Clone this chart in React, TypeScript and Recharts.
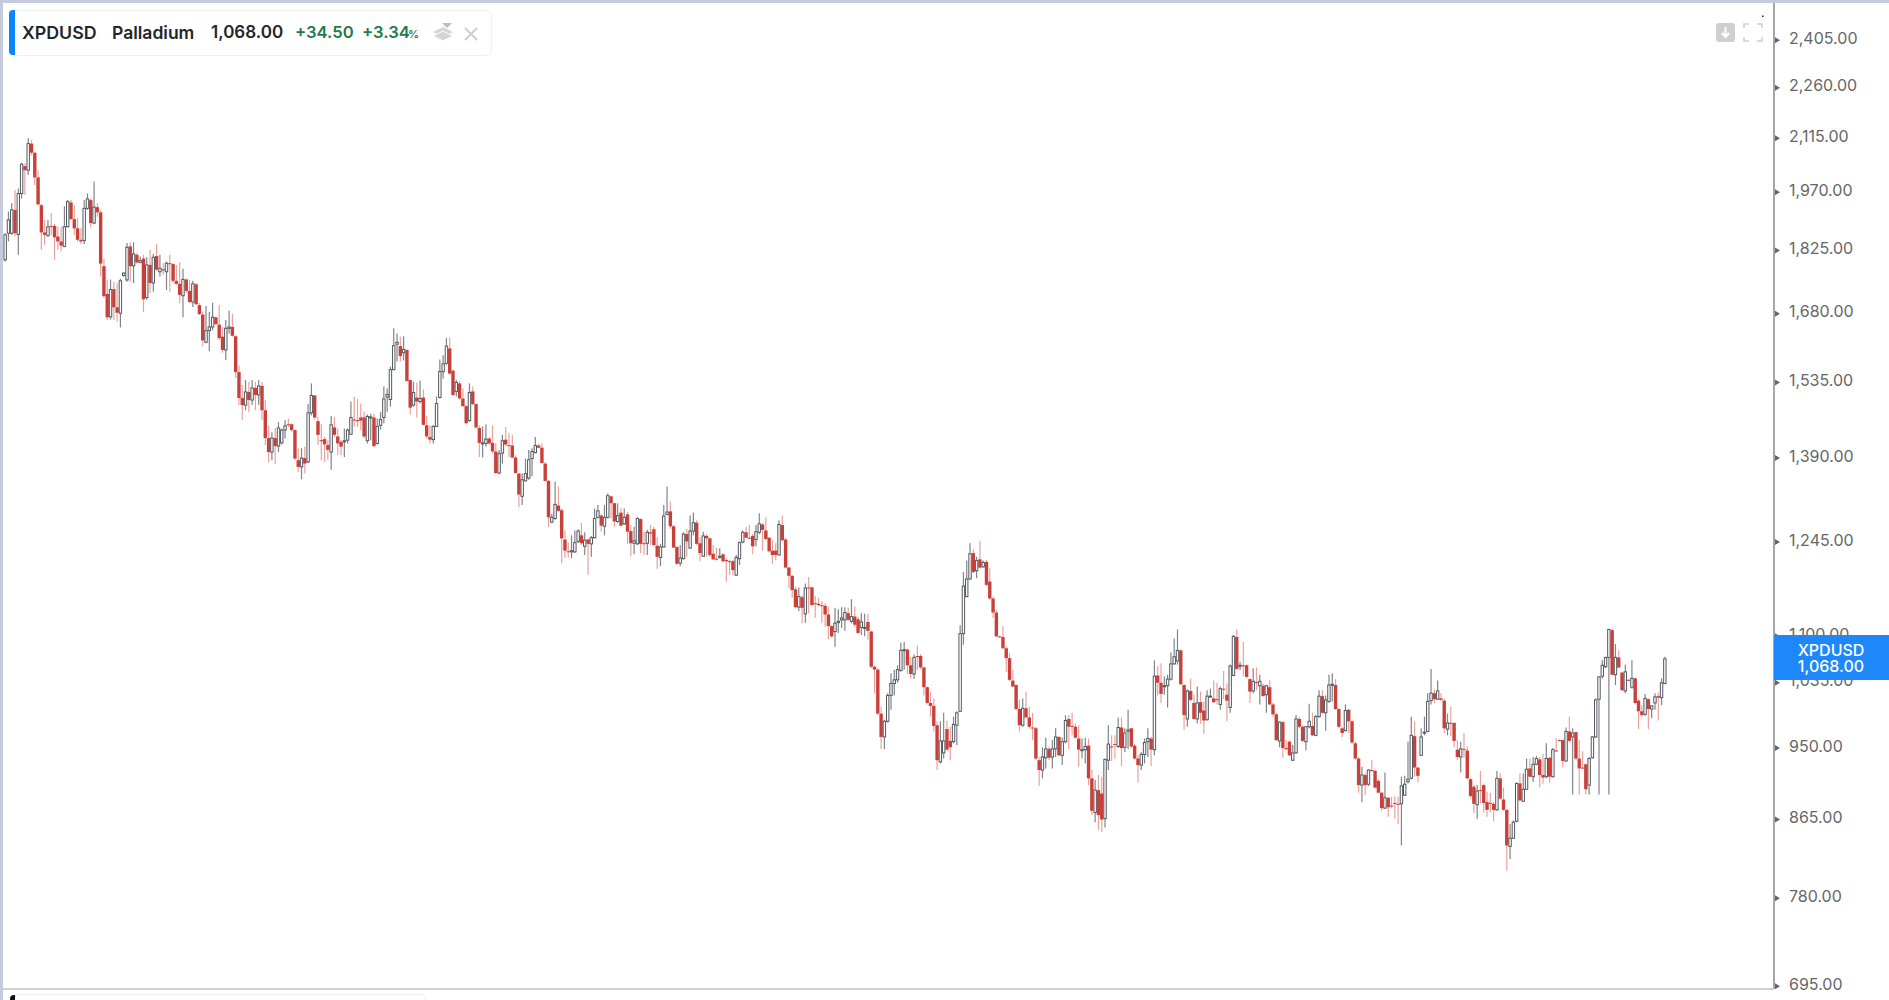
import React from "react";
import { ComposedChart, Bar, XAxis, YAxis } from "recharts";

const tickPrices = [2405, 2260, 2115, 1970, 1825, 1680, 1535, 1390, 1245, 1100, 1035, 950, 865, 780, 695];

const opens = [
  1803,1867,1867,1925,1864,1967,2039,2028,2100,2075,
  2009,1937,1869,1861,1885,1885,1859,1847,1835,1883,
  1944,1902,1879,1851,1849,1929,1950,1892,1932,1919,
  1788,1724,1673,1735,1694,1681,1766,1756,1835,1789,
  1815,1797,1806,1716,1791,1749,1812,1775,1781,1775,
  1795,1793,1754,1747,1720,1757,1731,1706,1746,1699,
  1678,1618,1643,1651,1672,1656,1630,1602,1648,1651,
  1631,1556,1504,1490,1516,1500,1524,1510,1528,1480,
  1427,1401,1427,1412,1418,1442,1453,1453,1442,1386,
  1374,1390,1383,1475,1509,1459,1423,1425,1414,1401,
  1447,1430,1420,1420,1423,1434,1462,1461,1466,1466,
  1422,1467,1466,1417,1451,1466,1506,1501,1561,1614,
  1610,1596,1602,1540,1490,1505,1497,1505,1451,1429,
  1424,1449,1505,1557,1574,1605,1559,1517,1533,1503,
  1488,1460,1517,1492,1446,1417,1417,1426,1418,1402,
  1363,1399,1424,1414,1413,1391,1362,1322,1349,1354,
  1389,1400,1413,1409,1380,1349,1278,1284,1306,1298,
  1249,1230,1229,1229,1246,1256,1238,1249,1242,1252,
  1286,1289,1271,1286,1322,1310,1279,1294,1275,1291,
  1263,1243,1242,1283,1243,1243,1261,1266,1239,1220,
  1237,1291,1296,1271,1237,1211,1218,1258,1235,1263,
  1277,1243,1222,1255,1251,1226,1218,1220,1225,1216,
  1214,1214,1192,1218,1245,1261,1252,1255,1249,1261,
  1274,1264,1252,1231,1231,1224,1273,1249,1204,1191,
  1170,1143,1158,1133,1173,1173,1149,1148,1146,1145,
  1132,1115,1107,1120,1124,1124,1134,1122,1129,1125,
  1113,1113,1121,1107,1057,1053,994,964,984,1018,
  1034,1039,1052,1080,1081,1059,1047,1072,1072,1056,
  1029,1008,1004,979,933,944,974,959,958,979,
  997,1104,1159,1186,1227,1199,1217,1205,1213,1182,
  1156,1135,1100,1099,1083,1069,1038,1032,1000,979,
  1001,989,976,975,935,923,938,949,939,949,
  964,941,958,987,978,977,962,948,948,953,
  913,873,899,895,866,935,952,955,952,976,
  951,971,975,953,937,929,942,958,962,948,
  1045,1035,1030,1031,1040,1061,1065,1080,1032,987,
  1024,1008,987,1009,998,986,1016,1014,1013,1006,
  1027,1019,1002,1045,1099,1058,1059,1059,1040,1024,
  1036,1031,1031,1019,1029,1006,993,959,983,950,
  958,935,944,987,977,958,977,978,966,990,
  1017,995,1010,1032,1032,1000,975,972,999,984,
  956,937,905,917,906,923,922,910,896,878,
  890,881,884,883,883,893,909,913,965,926,
  941,969,971,1011,1021,1013,1014,1011,974,982,
  982,948,939,949,947,912,903,882,899,905,
  885,884,883,876,913,888,876,835,844,863,
  907,886,900,925,915,930,936,917,915,938,
  915,947,960,960,934,971,964,970,937,926,
  930,905,938,964,1013,1044,1057,1070,1109,1046,
  1070,1049,1024,1039,1029,1041,1011,997,993,1013,
  1000,1008,1017,1015,1034,
];

const closes = [
  1863,1900,1925,1867,1967,2044,2028,2100,2075,2009,
  1939,1869,1863,1883,1883,1857,1847,1837,1883,1946,
  1902,1879,1851,1847,1929,1953,1892,1932,1919,1794,
  1719,1672,1734,1694,1682,1754,1772,1833,1788,1817,
  1797,1801,1712,1791,1749,1809,1780,1783,1778,1795,
  1793,1754,1747,1722,1757,1731,1706,1747,1701,1679,
  1622,1643,1651,1672,1657,1627,1602,1648,1651,1632,
  1556,1504,1490,1516,1500,1524,1510,1528,1480,1427,
  1401,1427,1412,1446,1442,1450,1452,1442,1389,1374,
  1390,1380,1475,1509,1466,1433,1421,1415,1405,1452,
  1433,1417,1411,1422,1442,1466,1461,1459,1460,1430,
  1468,1467,1412,1449,1462,1502,1511,1561,1611,1618,
  1589,1603,1538,1485,1515,1497,1503,1452,1430,1424,
  1449,1493,1557,1573,1610,1553,1510,1535,1503,1488,
  1455,1515,1492,1447,1418,1418,1425,1417,1402,1363,
  1398,1422,1415,1413,1391,1363,1325,1351,1362,1387,
  1402,1413,1409,1381,1349,1286,1286,1308,1297,1251,
  1231,1229,1231,1244,1263,1243,1248,1242,1252,1284,
  1297,1272,1286,1323,1310,1279,1289,1272,1286,1262,
  1243,1247,1284,1242,1242,1261,1259,1240,1221,1237,
  1288,1295,1271,1236,1210,1219,1258,1246,1263,1277,
  1242,1227,1255,1251,1224,1217,1217,1222,1214,1214,
  1213,1200,1220,1244,1261,1252,1251,1238,1262,1275,
  1265,1250,1230,1224,1224,1274,1248,1204,1191,1169,
  1143,1159,1142,1172,1172,1146,1148,1146,1145,1132,
  1115,1100,1119,1122,1127,1135,1124,1129,1117,1105,
  1121,1113,1108,1057,1053,994,964,984,1018,1034,
  1039,1053,1080,1081,1059,1047,1070,1071,1056,1029,
  1008,1004,978,935,959,959,948,951,980,995,
  1104,1175,1186,1226,1197,1215,1204,1212,1177,1156,
  1135,1100,1099,1083,1069,1039,1030,1000,979,1001,
  989,977,975,937,923,939,949,938,949,964,
  941,958,985,977,977,963,948,948,952,913,
  875,899,870,865,936,955,951,954,976,950,
  969,973,952,937,929,942,957,962,948,1044,
  1035,1020,1031,1040,1061,1071,1080,1033,992,1024,
  1012,987,1008,995,985,1017,1017,1009,1012,1027,
  1026,1011,1058,1100,1054,1059,1058,1043,1023,1037,
  1035,1037,1017,1031,1006,993,960,983,950,949,
  941,944,987,977,959,977,984,966,990,1017,
  995,1012,1032,1033,1000,977,969,998,984,957,
  937,905,917,905,923,922,902,896,878,890,
  879,880,883,882,904,906,912,966,926,916,
  964,970,1010,1021,1013,1024,1012,975,982,981,
  959,939,949,948,913,892,883,898,898,884,
  876,883,876,913,889,876,836,844,862,907,
  887,900,924,915,930,937,917,914,937,915,
  948,946,959,934,971,959,969,937,925,925,
  900,937,964,1012,1043,1059,1070,1110,1046,1070,
  1056,1025,1050,1038,1041,1008,997,992,1014,1000,
  1004,1016,1015,1035,1068,
];

const highs = [
  1867,1921,1942,1976,1980,2048,2046,2115,2110,2077,
  2028,1940,1900,1900,1917,1890,1883,1883,1934,1950,
  1950,1937,1904,1879,1950,1967,1954,1998,1942,1925,
  1807,1756,1757,1752,1749,1759,1773,1843,1845,1845,
  1819,1811,1815,1809,1827,1817,1841,1815,1795,1799,
  1815,1795,1791,1797,1782,1760,1756,1754,1749,1704,
  1684,1697,1684,1704,1673,1699,1651,1666,1687,1679,
  1633,1570,1530,1540,1536,1540,1536,1540,1536,1500,
  1451,1438,1446,1457,1445,1461,1464,1455,1443,1408,
  1408,1411,1492,1533,1510,1467,1453,1429,1423,1469,
  1467,1445,1423,1445,1445,1497,1507,1502,1493,1477,
  1472,1473,1473,1464,1477,1527,1523,1567,1648,1637,
  1630,1631,1603,1540,1537,1535,1539,1521,1470,1451,
  1451,1507,1582,1591,1627,1628,1560,1540,1537,1523,
  1490,1533,1527,1493,1451,1449,1453,1429,1451,1417,
  1405,1433,1448,1436,1433,1395,1363,1362,1389,1405,
  1408,1429,1417,1417,1383,1351,1292,1348,1339,1301,
  1264,1244,1256,1264,1266,1277,1261,1251,1255,1301,
  1307,1291,1307,1327,1323,1311,1310,1302,1301,1295,
  1273,1270,1286,1284,1262,1265,1273,1270,1253,1242,
  1307,1339,1313,1273,1238,1240,1261,1267,1289,1294,
  1281,1253,1262,1258,1252,1240,1236,1235,1227,1219,
  1216,1216,1224,1246,1264,1270,1273,1258,1273,1293,
  1276,1286,1253,1248,1243,1281,1289,1252,1205,1192,
  1174,1173,1161,1179,1189,1174,1160,1157,1152,1149,
  1144,1116,1142,1140,1143,1143,1142,1155,1144,1129,
  1134,1133,1133,1109,1059,1055,1003,986,1021,1048,
  1053,1059,1091,1092,1083,1071,1074,1087,1075,1057,
  1030,1023,1014,984,984,995,985,977,990,997,
  1116,1197,1215,1243,1233,1221,1247,1215,1216,1203,
  1159,1139,1101,1115,1086,1076,1053,1033,1012,1014,
  1023,1003,995,977,939,951,963,952,960,975,
  965,963,992,992,995,981,979,962,963,962,
  923,911,917,915,937,979,966,966,989,989,
  975,999,976,955,941,945,962,975,964,1066,
  1058,1062,1044,1046,1077,1097,1110,1081,1033,1026,
  1041,1019,1030,1023,1010,1025,1027,1038,1035,1030,
  1051,1034,1060,1102,1110,1064,1092,1060,1041,1055,
  1056,1046,1034,1032,1039,1008,995,984,984,960,
  960,954,992,990,979,977,1007,995,992,1025,
  1025,1018,1046,1048,1040,1001,977,1006,1000,985,
  958,939,927,919,924,935,923,912,897,920,
  891,891,892,891,915,916,958,990,984,927,
  975,990,1021,1054,1026,1038,1021,1014,994,1003,
  982,960,958,969,952,913,905,905,922,907,
  897,896,885,922,919,902,877,860,864,908,
  919,919,937,937,939,940,939,943,956,939,
  950,962,961,961,976,990,975,971,960,946,
  931,939,965,1014,1044,1066,1071,1111,1111,1089,
  1080,1050,1060,1040,1066,1042,1013,1005,1020,1014,
  1005,1021,1022,1041,1071,
];

const lows = [
  1799,1847,1863,1859,1815,1954,1963,2015,2068,1989,
  1937,1827,1839,1859,1863,1803,1827,1823,1833,1881,
  1900,1863,1847,1841,1841,1925,1881,1890,1908,1764,
  1715,1666,1667,1666,1662,1650,1764,1752,1752,1749,
  1794,1795,1684,1711,1726,1729,1776,1764,1768,1733,
  1729,1749,1745,1703,1672,1726,1703,1695,1699,1677,
  1609,1616,1599,1644,1655,1623,1596,1581,1637,1630,
  1544,1490,1461,1480,1476,1490,1480,1490,1461,1414,
  1382,1386,1379,1401,1415,1426,1448,1439,1386,1365,
  1352,1362,1381,1470,1462,1414,1386,1383,1386,1369,
  1429,1395,1395,1392,1417,1433,1449,1448,1442,1426,
  1417,1423,1411,1415,1443,1455,1477,1487,1560,1578,
  1578,1580,1537,1472,1487,1466,1493,1451,1426,1417,
  1417,1448,1503,1543,1571,1550,1508,1507,1501,1487,
  1453,1458,1490,1445,1392,1391,1411,1415,1399,1361,
  1361,1380,1411,1392,1389,1362,1303,1307,1348,1351,
  1357,1399,1408,1380,1348,1270,1276,1282,1295,1211,
  1219,1220,1219,1227,1243,1240,1224,1193,1221,1251,
  1284,1262,1256,1284,1284,1270,1277,1271,1273,1242,
  1222,1225,1240,1227,1224,1224,1240,1238,1202,1206,
  1236,1289,1267,1235,1208,1206,1217,1221,1235,1256,
  1240,1214,1221,1221,1221,1216,1215,1218,1212,1182,
  1192,1192,1191,1208,1243,1251,1250,1225,1238,1258,
  1231,1248,1228,1210,1216,1223,1246,1203,1172,1157,
  1141,1137,1119,1120,1134,1145,1127,1144,1120,1114,
  1096,1098,1085,1105,1112,1108,1123,1119,1114,1103,
  1102,1100,1095,1055,1021,992,949,949,982,999,
  1018,1035,1050,1053,1047,1041,1040,1053,1054,1018,
  1006,990,971,923,931,937,947,935,956,954,
  996,1088,1158,1185,1195,1187,1203,1204,1175,1154,
  1127,1099,1098,1082,1050,1037,1029,998,971,977,
  988,975,960,935,904,913,925,935,925,939,
  940,929,956,949,966,962,927,937,931,905,
  870,862,853,851,856,923,934,937,950,928,
  945,949,950,936,908,923,931,939,928,941,
  1018,1008,1019,1002,1038,1060,1060,1032,973,977,
  1010,986,981,981,968,985,1016,1008,1006,999,
  1013,984,995,1044,1053,1052,1044,1041,1008,1021,
  1025,1006,1017,995,1005,990,959,951,938,947,
  940,934,943,975,958,947,975,965,965,989,
  994,972,1008,1010,999,975,964,971,969,955,
  936,896,885,893,904,921,901,895,875,877,
  868,878,866,860,836,892,907,912,915,908,
  941,966,970,1006,1008,1012,1011,969,966,965,
  951,935,920,938,912,890,872,866,883,873,
  868,873,863,875,888,875,809,821,844,862,
  886,885,899,914,909,929,902,907,913,908,
  914,945,959,926,933,958,894,935,894,925,
  894,894,937,963,894,1041,1055,894,1045,1032,
  1055,1024,1021,1038,1027,1006,974,990,991,974,
  988,999,985,1005,1033,
];

const candles = opens.map((open, i) => ({
  bar: i,
  open,
  close: closes[i],
  high: highs[i],
  low: lows[i],
}));

const UP_EDGE = "#53585f";
const UP_WICK = "#7f848b";
const DOWN_BODY = "#c9403a";
const DOWN_WICK = "#eaa29d";

const formatPrice = (v: number) =>
  v.toLocaleString("en-US", { minimumFractionDigits: 2, maximumFractionDigits: 2 });

function Wick(props: any) {
  const { x, y, width, height, payload } = props;
  const cx = x + width / 2;
  const up = payload.close >= payload.open;
  return <line x1={cx} x2={cx} y1={y} y2={y + height} stroke={up ? UP_WICK : DOWN_WICK} strokeWidth={1.2} />;
}

function Body(props: any) {
  const { x, y, width, height, payload } = props;
  const cx = x + width / 2;
  const h = Math.max(height, 1);
  if (payload.close >= payload.open) {
    return <rect x={cx - 1.2} y={y} width={2.4} height={h} fill="#fff" stroke={UP_EDGE} strokeWidth={1} />;
  }
  return <rect x={cx - 1.7} y={y} width={3.4} height={h} fill={DOWN_BODY} />;
}

function PriceTick({ x, y, payload }: any) {
  return (
    <g>
      <path d={`M${x + 1} ${y - 3}L${x + 6} ${y}L${x + 1} ${y + 3}Z`} fill="#666" />
      <text x={x + 15} y={y + 3.5} fontFamily="Inter" fontSize={16} fill="#666">
        {formatPrice(payload.value)}
      </text>
    </g>
  );
}

const label = (left: number, fontSize: number, color: string, weight: number): React.CSSProperties => ({
  position: "absolute", left, top: 33 - fontSize * 0.62, fontSize, color, fontWeight: weight, lineHeight: `${fontSize * 1.2}px`, whiteSpace: "nowrap",
});

export default function App() {
  return (
    <div style={{ position: "absolute", left: 0, top: 0, width: 1889, height: 1000, background: "#fff", overflow: "hidden", fontFamily: "Inter" }}>
      <ComposedChart width={1889} height={1000} data={candles} margin={{ top: 3, right: 0, bottom: 11, left: 0 }}>
        <XAxis xAxisId="wick" dataKey="bar" type="category" hide padding={{ left: 3.65, right: 107.35 }} />
        <XAxis xAxisId="body" dataKey="bar" type="category" hide padding={{ left: 3.65, right: 107.35 }} />
        <YAxis
          orientation="right"
          scale="log"
          type="number"
          domain={[692.5, 2525.6]}
          allowDataOverflow
          ticks={tickPrices}
          interval={0}
          width={115}
          tickSize={0}
          tickMargin={0}
          tickLine={false}
          axisLine={{ stroke: "#888", strokeWidth: 1.5 }}
          tick={<PriceTick />}
        />
        <Bar xAxisId="wick" dataKey={(d: any) => [d.low, d.high]} barSize={1} shape={<Wick />} isAnimationActive={false} />
        <Bar xAxisId="body" dataKey={(d: any) => [Math.min(d.open, d.close), Math.max(d.open, d.close)]} barSize={3} shape={<Body />} isAnimationActive={false} />
      </ComposedChart>

      {/* frame lines */}
      <div style={{ position: "absolute", left: 0, top: 0, width: 1889, height: 3, background: "#c5cbdd" }} />
      <div style={{ position: "absolute", left: 0, top: 0, width: 3, height: 1000, background: "#c5cbdd" }} />
      <div style={{ position: "absolute", left: 3, top: 988, width: 1771, height: 2, background: "#cfcfcf" }} />
      <div style={{ position: "absolute", left: 14, top: 994, width: 410, height: 20, border: "1px solid #eee", borderRadius: 5 }} />
      <div style={{ position: "absolute", left: 10, top: 995, width: 5, height: 6, background: "#111", borderRadius: "4px 0 0 0" }} />

      {/* symbol legend */}
      <div style={{ position: "absolute", left: 9, top: 10, width: 481, height: 44, border: "1px solid #f0f0f2", borderRadius: 6 }} />
      <div style={{ position: "absolute", left: 9, top: 10, width: 6, height: 45, background: "#0a84ff", borderRadius: "4px 0 0 4px" }} />
      <span style={label(22, 17.8, "#22262a", 600)}>XPDUSD</span>
      <span style={label(112, 17.5, "#22262a", 600)}>Palladium</span>
      <span style={label(211, 17, "#22262a", 600)}>1,068.00</span>
      <span style={label(295, 16.6, "#1f7a4d", 600)}>+34.50</span>
      <span style={label(362, 16.6, "#1f7a4d", 600)}>+3.34</span>
      <span style={{ ...label(408, 11, "#1f7a4d", 600), top: 28 }}>%</span>
      <svg style={{ position: "absolute", left: 430, top: 20 }} width={56} height={24}>
        <path d="M3 12L13 7L23 12L13 17Z" fill="#d4d4d4" />
        <path d="M3 16L13 11L23 16L13 21Z" fill="#d4d4d4" stroke="#fff" strokeWidth={1} />
        <path d="M12 3H22L17 8Z" fill="#bdbdbd" />
        <path d="M35 8L47 20M47 8L35 20" stroke="#cfcfcf" strokeWidth={2.2} />
      </svg>

      {/* chart buttons */}
      <svg style={{ position: "absolute", left: 1714, top: 14 }} width={52} height={30}>
        <rect x={2} y={9} width={19} height={19} rx={3} fill="#cfcfcf" />
        <path d="M11.5 13V22M8 19L11.5 23L15 19" stroke="#fff" strokeWidth={2} fill="none" />
        <path d="M30 14V10H35M43 10H48V14M30 23V27H35M43 27H48V23" stroke="#d0d0d0" strokeWidth={1.6} fill="none" />
        <rect x={48} y={1.5} width={1.5} height={1.5} fill="#222" />
      </svg>

      {/* last price tag */}
      <div style={{ position: "absolute", left: 1774, top: 635, width: 115, height: 45, background: "#1e88fb", color: "#fff", fontSize: 16, fontWeight: 500, lineHeight: "16px", paddingTop: 7, boxSizing: "border-box", textAlign: "center" }}>
        <div style={{ marginLeft: 18, width: 78 }}>XPDUSD</div>
        <div style={{ marginLeft: 18, width: 78 }}>{formatPrice(closes[closes.length - 1])}</div>
      </div>
    </div>
  );
}
